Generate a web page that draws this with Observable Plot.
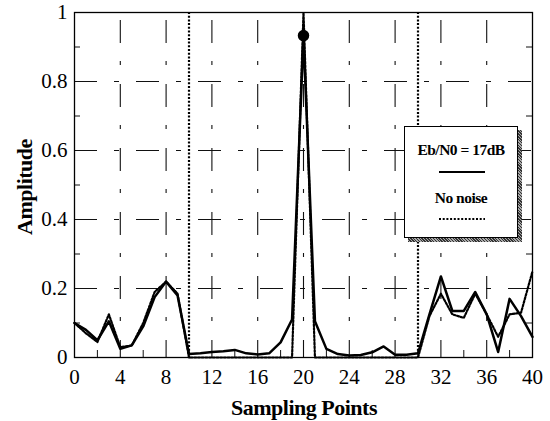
<!DOCTYPE html>
<html>
<head>
<meta charset="utf-8">
<script src="https://cdn.jsdelivr.net/npm/d3@7"></script>
<script src="https://cdn.jsdelivr.net/npm/@observablehq/plot@0.6"></script>
<style>
  html, body { margin: 0; padding: 0; background: #fff; }
  #wrap { position: relative; width: 550px; height: 421px; font-family: "Liberation Serif", "Times New Roman", serif; color: #000; }
  #wrap > svg { position: absolute; left: 0; top: 0; }
  #wrap > svg text { font-family: "Liberation Serif", "Times New Roman", serif !important; }
  .title { position: absolute; font-weight: bold; font-size: 22px; letter-spacing: -0.5px; white-space: nowrap; }
  #legend { position: absolute; left: 404px; top: 126px; width: 114px; height: 112px; }
  #legend .shadow { position: absolute; left: 4px; top: 4px; width: 114px; height: 112px;
    background: repeating-linear-gradient(45deg, #333 0px, #333 1px, #aaa 1px, #aaa 2px); }
  #legend .box { position: absolute; left: 0; top: 0; width: 112px; height: 110px; border: 1px solid #000; background: #fff; }
  #legend .lt { position: absolute; left: 0; width: 112px; text-align: center; font-weight: bold; font-size: 15.5px; letter-spacing: -0.5px; line-height: 16px; white-space: nowrap; }
  #legend svg { position: absolute; left: 0; }
</style>
</head>
<body>
<div id="wrap"></div>
<script>
// ---- data ----
const samplingPoints = [0,1,2,3,4,5,6,7,8,9,10,11,12,13,14,15,16,17,18,19,20,21,22,23,24,25,26,27,28,29,30,31,32,33,34,35,36,37,38,39,40];
const noisyAmp = [0.10,0.08,0.05,0.105,0.025,0.035,0.09,0.175,0.22,0.18,0.01,0.012,0.016,0.018,0.022,0.012,0.009,0.012,0.044,0.11,0.93,0.105,0.025,0.01,0.006,0.007,0.015,0.032,0.008,0.008,0.012,0.125,0.235,0.135,0.135,0.19,0.125,0.016,0.17,0.12,0.06];
const cleanAmp = [0.10,0.07,0.045,0.125,0.03,0.035,0.10,0.19,0.22,0.185,0,0,0,0,0,0,0,0,0,0,1.0,0,0,0,0,0,0,0,0,0,0,0.12,0.185,0.125,0.115,0.185,0.125,0.06,0.125,0.13,0.25];
const windowEdges = [10, 30];
const peakPoint = [{x: 20, y: 0.933}];
const seriesNames = ["Eb/N0 = 17dB", "No noise"];
const xTicks = [0,4,8,12,16,20,24,28,32,36,40];
const xGrid = [4,8,12,16,20,24,28,32,36];
const xMinor = [2,6,10,14,18,22,26,30,34,38];
const yTicks = [0,0.2,0.4,0.6,0.8,1];
const yGrid = [0.2,0.4,0.6,0.8];
const yMinor = [0.1,0.3,0.5,0.7,0.9];
const xTitle = "Sampling Points";
const yTitle = "Amplitude";

const noisy = samplingPoints.map((x, i) => ({x, y: noisyAmp[i]}));
const clean = samplingPoints.map((x, i) => ({x, y: cleanAmp[i]}));

// ---- layout ----
const W = 550, H = 421;
const mL = 74, mR = 18, mT = 12, mB = 64;
const plotW = W - mL - mR, plotH = H - mT - mB;
const serif = "Liberation Serif";
const dots = "2,1.7";

const chart = Plot.plot({
  width: W, height: H,
  marginLeft: mL, marginRight: mR, marginTop: mT, marginBottom: mB,
  style: {fontFamily: serif, fontSize: "21px", background: "#fff", color: "#000"},
  x: {domain: [0, 40], label: null},
  y: {domain: [0, 1], label: null},
  marks: [
    Plot.ruleY(yGrid, {stroke: "#111", strokeWidth: 1.1, strokeDasharray: "23,17,5,17"}),
    Plot.ruleX(xGrid, {stroke: "#111", strokeWidth: 1.1, strokeDasharray: "23,18,4,19", strokeDashoffset: 56}),
    Plot.ruleX(xMinor, {stroke: "#111", strokeWidth: 1, insetTop: plotH - 7}),
    Plot.ruleY(yMinor, {stroke: "#111", strokeWidth: 1, insetRight: plotW - 6}),
    Plot.ruleY(yMinor, {stroke: "#111", strokeWidth: 1, insetLeft: plotW - 6}),
    Plot.ruleX(windowEdges, {stroke: "#000", strokeWidth: 2.2, strokeDasharray: dots}),
    Plot.line(clean, {x: "x", y: "y", stroke: "#000", strokeWidth: 2.2, strokeDasharray: dots}),
    Plot.line(noisy, {x: "x", y: "y", stroke: "#000", strokeWidth: 2.5}),
    Plot.dot(peakPoint, {x: "x", y: "y", r: 5, fill: "#000", stroke: "#000"}),
    Plot.frame({stroke: "#000", strokeWidth: 1.3}),
    Plot.axisX({ticks: xTicks, tickSize: 0, tickPadding: 12, tickFormat: d => String(d), label: null, fontFamily: serif, fontSize: 21}),
    Plot.axisY({ticks: yTicks, tickSize: 0, tickPadding: 7, tickFormat: d => String(d), label: null, fontFamily: serif, fontSize: 21})
  ]
});

const wrap = document.getElementById("wrap");
wrap.appendChild(chart);

// axis titles
const xt = document.createElement("div");
xt.className = "title";
xt.textContent = xTitle;
xt.style.left = (mL + plotW / 2 + 1) + "px";
xt.style.top = "408px";
xt.style.transform = "translate(-50%, -50%)";
wrap.appendChild(xt);

const yt = document.createElement("div");
yt.className = "title";
yt.textContent = yTitle;
yt.style.left = "25px";
yt.style.top = "187px";
yt.style.transform = "translate(-50%, -50%) rotate(-90deg)";
wrap.appendChild(yt);

// legend
const leg = document.createElement("div");
leg.id = "legend";
leg.innerHTML = '<div class="shadow"></div><div class="box"></div>';
const box = leg.querySelector(".box");
const entries = [
  {name: seriesNames[0], textY: 15, lineY: 45, dash: null},
  {name: seriesNames[1], textY: 63, lineY: 92, dash: dots}
];
for (const e of entries) {
  const t = document.createElement("div");
  t.className = "lt";
  t.textContent = e.name;
  t.style.top = e.textY + "px";
  box.appendChild(t);
  const s = document.createElementNS("http://www.w3.org/2000/svg", "svg");
  s.setAttribute("width", "112");
  s.setAttribute("height", "6");
  s.style.top = (e.lineY - 3) + "px";
  const ln = document.createElementNS("http://www.w3.org/2000/svg", "line");
  ln.setAttribute("x1", "34"); ln.setAttribute("x2", "80");
  ln.setAttribute("y1", "3"); ln.setAttribute("y2", "3");
  ln.setAttribute("stroke", "#000");
  ln.setAttribute("stroke-width", e.dash ? "1.8" : "2.2");
  if (e.dash) ln.setAttribute("stroke-dasharray", e.dash);
  s.appendChild(ln);
  box.appendChild(s);
}
wrap.appendChild(leg);
</script>
</body>
</html>
